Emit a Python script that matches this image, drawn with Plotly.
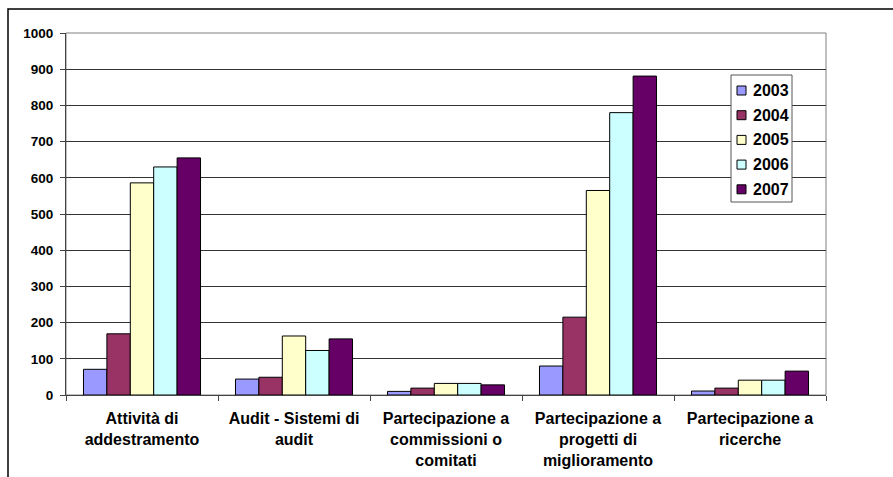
import plotly.graph_objects as go

categories = [
    "Attività di<br>addestramento",
    "Audit - Sistemi di<br>audit",
    "Partecipazione a<br>commissioni o<br>comitati",
    "Partecipazione a<br>progetti di<br>miglioramento",
    "Partecipazione a<br>ricerche",
]
years = ["2003", "2004", "2005", "2006", "2007"]
values_2003 = [71, 44, 10, 80, 11]
values_2004 = [169, 49, 19, 215, 19]
values_2005 = [586, 163, 32, 565, 41]
values_2006 = [630, 123, 32, 780, 41]
values_2007 = [655, 155, 28, 881, 66]
series = [values_2003, values_2004, values_2005, values_2006, values_2007]
colors = ["#9999FF", "#993366", "#FFFFCC", "#CCFFFF", "#660066"]
y_ticks = [0, 100, 200, 300, 400, 500, 600, 700, 800, 900, 1000]

FONT = "Liberation Sans, Arial, sans-serif"

W, H = 893, 477
L, R, T, B = 66, 67, 33, 82
pw, ph = W - L - R, H - T - B


def px_x(x):
    """Pixel column -> paper x."""
    return (x - L) / pw


def px_y(y):
    """Pixel row (from top) -> paper y."""
    return (H - B - y) / ph


fig = go.Figure()
for year, vals, col in zip(years, series, colors):
    fig.add_trace(go.Bar(
        name=year, x=categories, y=vals, showlegend=False,
        marker=dict(color=col, line=dict(color="#000000", width=1)),
    ))

shapes = [
    # plot-area frame
    dict(type="rect", xref="paper", yref="paper", x0=0, y0=0, x1=1, y1=1,
         line=dict(color="#808080", width=1), layer="below"),
    # chart-area border
    dict(type="rect", xref="paper", yref="paper",
         x0=px_x(8), x1=px_x(905), y0=px_y(490), y1=px_y(9),
         line=dict(color="#000000", width=1.5)),
    # legend box
    dict(type="rect", xref="paper", yref="paper",
         x0=px_x(731), x1=px_x(792), y0=px_y(202), y1=px_y(75),
         fillcolor="white", line=dict(color="#555555", width=1)),
]
annotations = []

# legend entries: swatch + year label
leg_top, leg_step = 90.5, 24.7
for i, (year, col) in enumerate(zip(years, colors)):
    cy = leg_top + i * leg_step
    shapes.append(dict(
        type="rect", xref="paper", yref="paper",
        x0=px_x(737), x1=px_x(746), y0=px_y(cy + 4.5), y1=px_y(cy - 4.5),
        fillcolor=col, line=dict(color="#000000", width=1),
    ))
    annotations.append(dict(
        xref="paper", yref="paper", x=px_x(751), y=px_y(cy),
        xanchor="left", yanchor="middle", text=year, showarrow=False,
        font=dict(size=16, family=FONT, weight="bold", color="#000000"),
    ))

fig.update_layout(
    width=W, height=H,
    margin=dict(l=L, r=R, t=T, b=B, autoexpand=False),
    paper_bgcolor="white", plot_bgcolor="white",
    barmode="group", bargap=0.23, bargroupgap=0,
    font=dict(family=FONT, color="#000000"),
    showlegend=False,
    xaxis=dict(
        automargin=False,
        showline=True, linecolor="#444444", linewidth=1,
        ticks="outside", ticklen=5, tickcolor="#444444", tickson="boundaries",
        tickfont=dict(size=16, family=FONT, weight="bold"),
        ticklabelstandoff=9,
        showgrid=False,
    ),
    yaxis=dict(
        automargin=False,
        range=[0, 1000], tickvals=y_ticks,
        showline=True, linecolor="#444444", linewidth=1,
        ticks="outside", ticklen=5, tickcolor="#444444",
        tickfont=dict(size=13.5, family=FONT, weight="bold"),
        ticklabelstandoff=4,
        showgrid=True, gridcolor="#333333", gridwidth=1,
        zeroline=False,
    ),
    shapes=shapes,
    annotations=annotations,
)

fig.write_html("out.html")
